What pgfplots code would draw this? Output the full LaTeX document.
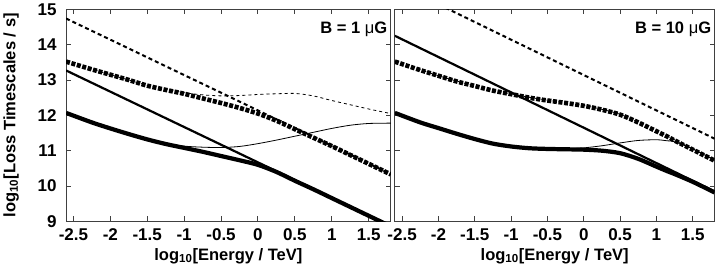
\documentclass[border=0pt]{standalone}
\usepackage{pgfplots}
\pgfplotsset{compat=1.18}
\usepackage{fontspec}
\setmainfont{Liberation Sans}
\pgfplotstableread{
x     thinS  thickS  thinD  thickD
-2.6  12.07  12.07   13.55  13.52
-2.25 11.80  11.80   13.31  13.30
-2.0  11.64  11.63   13.15  13.15
-1.75 11.47  11.47   13.00  13.00
-1.5  11.33  11.32   12.85  12.84
-1.25 11.21  11.19   12.74  12.72
-1.0  11.13  11.08   12.64  12.61
-0.75 11.10  10.97   12.58  12.48
-0.5  11.09  10.85   12.55  12.35
-0.25 11.12  10.73   12.56  12.21
0.0   11.20  10.60   12.59  12.05
0.25  11.30  10.40   12.61  11.85
0.5   11.41  10.15   12.62  11.61
0.75  11.52  9.91    12.55  11.37
1.0   11.63  9.66    12.42  11.13
1.25  11.72  9.41    12.30  10.88
1.5   11.77  9.16    12.18  10.63
1.8   11.78  8.86    12.05  10.33
}\lefttab
\pgfplotstableread{
x     thinS  thickS  thinD  thickD
-2.6  12.07  12.07   13.53  13.52
-2.25 11.80  11.80   13.29  13.28
-2.0  11.64  11.64   13.12  13.12
-1.75 11.48  11.48   12.97  12.96
-1.5  11.33  11.33   12.83  12.83
-1.25 11.21  11.20   12.71  12.70
-1.0  11.13  11.12   12.61  12.60
-0.75 11.08  11.07   12.51  12.50
-0.5  11.05  11.05   12.43  12.42
-0.25 11.05  11.04   12.36  12.35
0.0   11.08  11.03   12.28  12.27
0.25  11.14  11.00   12.17  12.16
0.5   11.22  10.93   12.03  12.02
0.75  11.29  10.77   11.81  11.80
1.0   11.31  10.55   11.56  11.55
1.15  11.28  10.42   11.41  11.40
1.25  11.25  10.34   11.31  11.29
1.5   11.05  10.12   11.05  11.03
1.8   10.73  9.82    10.75  10.72
}\righttab
\pgfplotstableread{
x     dS     dD
-2.6  13.27  14.74
1.8   8.87   10.34
}\leftstr
\pgfplotstableread{
x     dS     dD
-2.6  14.25  15.74
1.8   9.85   11.34
}\rightstr
\pgfplotsset{
  panel/.style={
    scale only axis, width=323bp, height=211bp,
    xmin=-2.6, xmax=1.8, ymin=9, ymax=15,
    xtick={-2.5,-2,-1.5,-1,-0.5,0,0.5,1,1.5},
    ytick={9,10,11,12,13,14,15},
    tick align=inside, tick pos=both,
    xticklabel pos=lower, yticklabel pos=left,
    major tick length=5bp,
    axis line style={black!75, line width=0.9bp},
    tick style={black!75, line width=0.9bp},
    /pgf/number format/assume math mode=true,
    ticklabel style={font=\fontsize{17}{20}\selectfont\bfseries},
    xticklabel style={anchor=north, yshift=-4bp},
    yticklabel style={anchor=east, xshift=-6bp},
    label style={font=\fontsize{16.5}{19}\selectfont\bfseries},
    xlabel={log$_{\mathbf{10}}$[Energy / TeV]},
    xlabel style={at={(axis description cs:0.5,0)}, anchor=north, yshift=-23bp},
    clip=true,
  },
  thinsolid/.style={black, line width=0.8bp, smooth},
  thicksolid/.style={black, line width=4.2bp, smooth},
  strsolid/.style={black, line width=2.2bp},
  thindash/.style={black, line width=0.8bp, dash pattern=on 3bp off 3bp, smooth},
  meddash/.style={black, line width=2bp, dash pattern=on 4bp off 3bp},
  thickdash/.style={black, line width=4.6bp, dash pattern=on 4bp off 1.6bp, smooth},
}
\begin{document}
\begin{tikzpicture}
\begin{axis}[panel, at={(0,0)},
  ylabel={log$_{\mathbf{10}}$[Loss Timescales / s]},
  ylabel style={at={(axis description cs:-0.204,0.5)}, anchor=north},
  xticklabel style={/pgf/number format/fixed},
]
\addplot[meddash] table[x=x,y=dD] {\leftstr};
\addplot[strsolid] table[x=x,y=dS] {\leftstr};
\addplot[thindash] table[x=x,y=thinD] {\lefttab};
\addplot[thinsolid] table[x=x,y=thinS] {\lefttab};
\addplot[thickdash] table[x=x,y=thickD] {\lefttab};
\addplot[thicksolid] table[x=x,y=thickS] {\lefttab};
\node[anchor=north east, font=\fontsize{16.5}{19}\selectfont\bfseries, inner sep=0pt] at (rel axis cs:0.99,0.94) {B = 1 {\mdseries μ}G};
\end{axis}
\begin{axis}[panel, at={(327bp,0)}, width=318bp, yticklabels={}]
\addplot[meddash] table[x=x,y=dD] {\rightstr};
\addplot[strsolid] table[x=x,y=dS] {\rightstr};
\addplot[thindash] table[x=x,y=thinD] {\righttab};
\addplot[thinsolid] table[x=x,y=thinS] {\righttab};
\addplot[thickdash] table[x=x,y=thickD] {\righttab};
\addplot[thicksolid] table[x=x,y=thickS] {\righttab};
\node[anchor=north east, font=\fontsize{16.5}{19}\selectfont\bfseries, inner sep=0pt] at (rel axis cs:0.99,0.94) {B = 10 {\mdseries μ}G};
\end{axis}
\end{tikzpicture}
\end{document}
